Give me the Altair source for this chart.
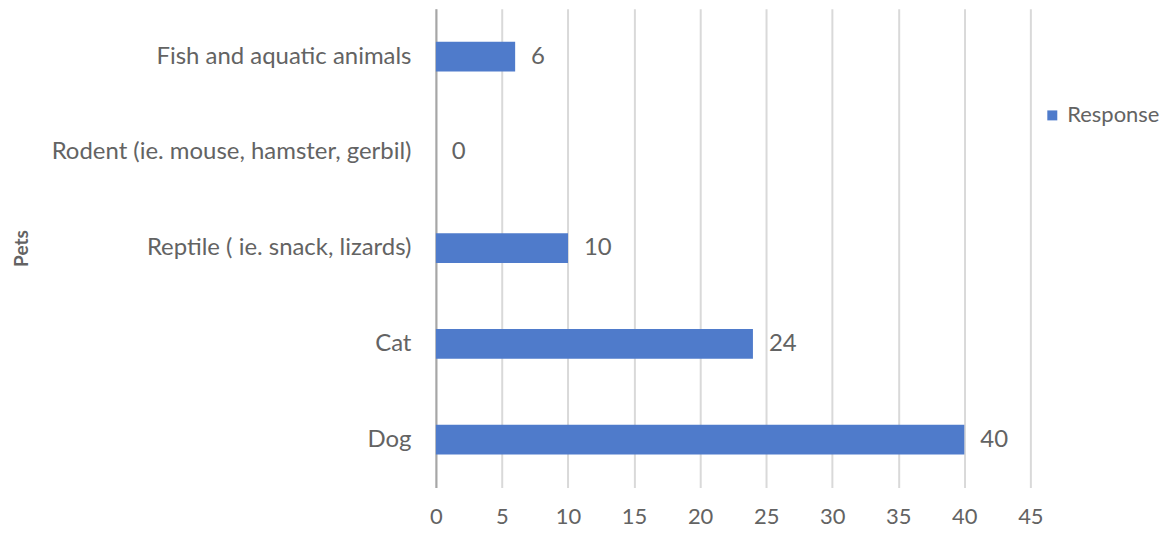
import altair as alt
import pandas as pd

pets = ["Fish and aquatic animals", "Rodent (ie. mouse, hamster, gerbil)",
        "Reptile ( ie. snack, lizards)", "Cat", "Dog"]
responses = [6, 0, 10, 24, 40]
series = ["Response"] * len(pets)

df = pd.DataFrame({"Pets": pets, "Response": responses, "Series": series})

FONT = "Lato"
GRAY = "#636363"
FS = 24

y_enc = alt.Y("Pets:N", sort=pets,
              scale=alt.Scale(paddingInner=0.69, paddingOuter=0.345),
              axis=alt.Axis(title="Pets", titleFontWeight="bold", titleFontSize=19,
                            titleColor=GRAY, titleFont=FONT, titleAngle=270,
                            titleX=-415, titleY=240, titleAlign="center",
                            titleBaseline="middle",
                            labelFont=FONT, labelFontSize=FS, labelColor=GRAY,
                            labelPadding=25, ticks=False, domain=True,
                            domainColor="#a6a6a6", domainWidth=2, grid=False,
                            labelLimit=500))

bars = alt.Chart(df).mark_bar(color="#5a88d6").encode(
    x=alt.X("Response:Q", scale=alt.Scale(domain=[0, 45], nice=False),
            axis=alt.Axis(title=None, values=list(range(0, 50, 5)), grid=True,
                          gridColor="#d9d9d9", gridWidth=2, domain=False, ticks=False,
                          labelFont=FONT, labelFontSize=22, labelColor=GRAY,
                          labelPadding=19, labelFlush=False)),
    y=y_enc,
    color=alt.Color("Series:N", scale=alt.Scale(range=["#4f7bcb"]),
                    legend=alt.Legend(title=None, orient="none", legendX=607, legendY=96,
                                      symbolType="square", symbolSize=100,
                                      labelFont=FONT, labelFontSize=22, labelColor=GRAY)),
)

labels = alt.Chart(df).mark_text(align="left", dx=16, font=FONT, fontSize=FS,
                                 color=GRAY).encode(
    x="Response:Q",
    y=alt.Y("Pets:N", sort=pets),
    text="Response:Q",
)

chart = (bars + labels).properties(
    width=596, height=480,
    autosize=alt.AutoSizeParams(type="none"),
    padding={"left": 429, "top": 0, "right": 138, "bottom": 45},
).configure_view(stroke=None)

chart.save("out.html", embed_options={"renderer": "svg", "actions": False})
